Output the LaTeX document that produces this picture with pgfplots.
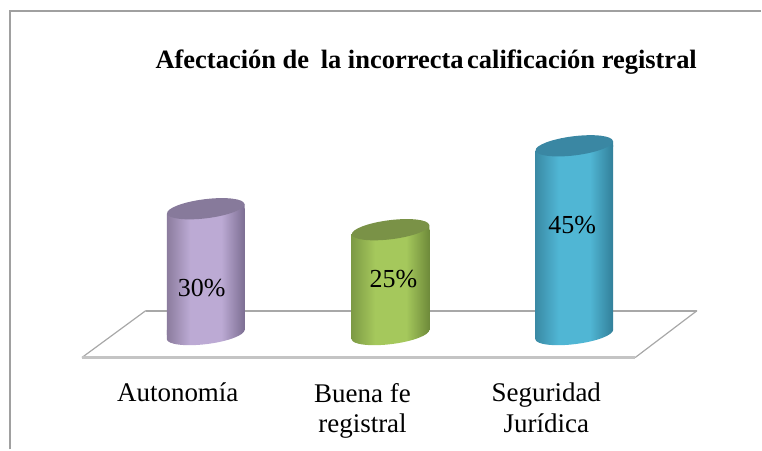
\documentclass[border=0pt]{standalone}
\usepackage{fontspec}
\setmainfont{Liberation Serif}
\usepackage{pgfplots}
\pgfplotsset{compat=1.18}
\definecolor{frameg}{HTML}{A0A0A0}
\definecolor{floorb}{HTML}{C4C4C4}
\definecolor{floort}{HTML}{A8A8A8}
\definecolor{topA}{HTML}{877A9B}
\definecolor{topB}{HTML}{7A9247}
\definecolor{topC}{HTML}{3A87A3}
\definecolor{a0}{HTML}{8B7C9D}\definecolor{a1}{HTML}{BCAAD4}\definecolor{a2}{HTML}{7C6E92}
\definecolor{b0}{HTML}{7D9A45}\definecolor{b1}{HTML}{A5C85C}\definecolor{b2}{HTML}{6E8A3A}
\definecolor{c0}{HTML}{3A8AA5}\definecolor{c1}{HTML}{50B6D4}\definecolor{c2}{HTML}{327F99}
\pgfdeclarehorizontalshading{cylA}{100bp}{color(0bp)=(a0); color(25bp)=(a0); color(40bp)=(a1); color(60bp)=(a1); color(75bp)=(a2); color(100bp)=(a2)}
\pgfdeclarehorizontalshading{cylB}{100bp}{color(0bp)=(b0); color(25bp)=(b0); color(40bp)=(b1); color(60bp)=(b1); color(75bp)=(b2); color(100bp)=(b2)}
\pgfdeclarehorizontalshading{cylC}{100bp}{color(0bp)=(c0); color(25bp)=(c0); color(40bp)=(c1); color(60bp)=(c1); color(75bp)=(c2); color(100bp)=(c2)}
% tilted caps of the cylinders; the white patches trim the square bar corners
\newcommand{\pt}[2]{\pgfqpoint{#1pt}{#2pt}}
\newcommand{\whitepatch}[4]{\begin{pgfscope}\pgfsetfillcolor{white}\pgfpathrectanglecorners{\pt{#1}{#2}}{\pt{#3}{#4}}\pgfusepathqfill\end{pgfscope}}
% top: trim left corner, fill the notch under the right end, then the cap
\newcommand{\captop}[1]{\whitepatch{-41}{-4.8}{-28}{1}%
  \begin{pgfscope}\pgfpathmoveto{\pt{-39}{-4.8}}\pgfpathlineto{\pt{39}{-1}}\pgfpathlineto{\pt{39}{4.8}}\pgfpathclose
  \pgfshadepath{#1}{0}\pgfusepath{discard}\end{pgfscope}%
  \pgfpathellipse{\pgfpointorigin}{\pt{38.7}{4.8}}{\pt{-1.2}{9.5}}\pgfusepathqfill}
% bottom: trim right corner, then the lower half of the ellipse joined to the bar
\newcommand{\capbottom}[1]{\whitepatch{28}{-1}{41}{4.8}%
  \begin{pgfscope}\pgfpathmoveto{\pt{-39}{-4.8}}%
  \pgfpathcurveto{\pt{-38.04}{-10.05}}{\pt{-20.17}{-12.15}}{\pt{1.2}{-9.5}}%
  \pgfpathcurveto{\pt{22.57}{-6.85}}{\pt{39}{-0.45}}{\pt{39}{4.8}}%
  \pgfpathlineto{\pt{-39}{4.8}}\pgfpathclose
  \pgfshadepath{#1}{0}\pgfusepath{discard}\end{pgfscope}}
\pgfdeclareplotmark{topmA}{\captop{cylA}}
\pgfdeclareplotmark{topmB}{\captop{cylB}}
\pgfdeclareplotmark{topmC}{\captop{cylC}}
\pgfdeclareplotmark{botA}{\capbottom{cylA}}
\pgfdeclareplotmark{botB}{\capbottom{cylB}}
\pgfdeclareplotmark{botC}{\capbottom{cylC}}
\begin{document}
\begin{tikzpicture}
\begin{axis}[scale only axis,width=762pt,height=450pt,
  xmin=0,xmax=762,ymin=-27.38,ymax=79.76,clip=false,
  axis line style={draw=none},tick style={draw=none},
  xtick={206,391,575},
  xticklabels={Autonomía,{Buena fe\\registral},{Seguridad\\Jurídica}},
  ytick=\empty,
  xticklabel style={align=center,anchor=north,xshift=-28pt,yshift=70pt,
    font=\fontsize{27}{31}\selectfont},
  title={Afectación de\hspace{5pt} la incorrecta\hspace{-3pt} calificación registral},
  title style={at={(0.56,0.848)},anchor=center,font=\fontsize{26.5}{31}\selectfont\bfseries},
  bar shift=0pt,bar width=78pt]
% frame
\addplot[frameg,line width=2pt] coordinates {(10,-27.38)(10,77.14)(762,77.14)};
% floor
\addplot[floort,line width=1.2pt] coordinates {(82,-5.48)(146,5.71)};
\addplot[floort,line width=1.2pt] coordinates {(636,-5.48)(698,5.71)};
\addplot[floort,line width=2pt] coordinates {(146,5.71)(698,5.71)};
\addplot[floorb,line width=3pt] coordinates {(82,-5.48)(636,-5.48)};
% cylinders
\addplot[ybar,draw=none,shade,shading=cylA] coordinates {(206,30)};
\addplot[only marks,mark=botA] coordinates {(206,0)};
\addplot[only marks,mark=topmA,mark options={fill=topA,draw=none}] coordinates {(206,30)};
\addplot[ybar,draw=none,shade,shading=cylB] coordinates {(391,25)};
\addplot[only marks,mark=botB] coordinates {(391,0)};
\addplot[only marks,mark=topmB,mark options={fill=topB,draw=none}] coordinates {(391,25)};
\addplot[ybar,draw=none,shade,shading=cylC] coordinates {(575,45)};
\addplot[only marks,mark=botC] coordinates {(575,0)};
\addplot[only marks,mark=topmC,mark options={fill=topC,draw=none}] coordinates {(575,45)};
% value labels
\node[font=\fontsize{26}{30}\selectfont] at (axis cs:202,11) {30\%};
\node[font=\fontsize{26}{30}\selectfont] at (axis cs:394,13.3) {25\%};
\node[font=\fontsize{26}{30}\selectfont] at (axis cs:573,26.2) {45\%};
\end{axis}
\end{tikzpicture}
\end{document}
